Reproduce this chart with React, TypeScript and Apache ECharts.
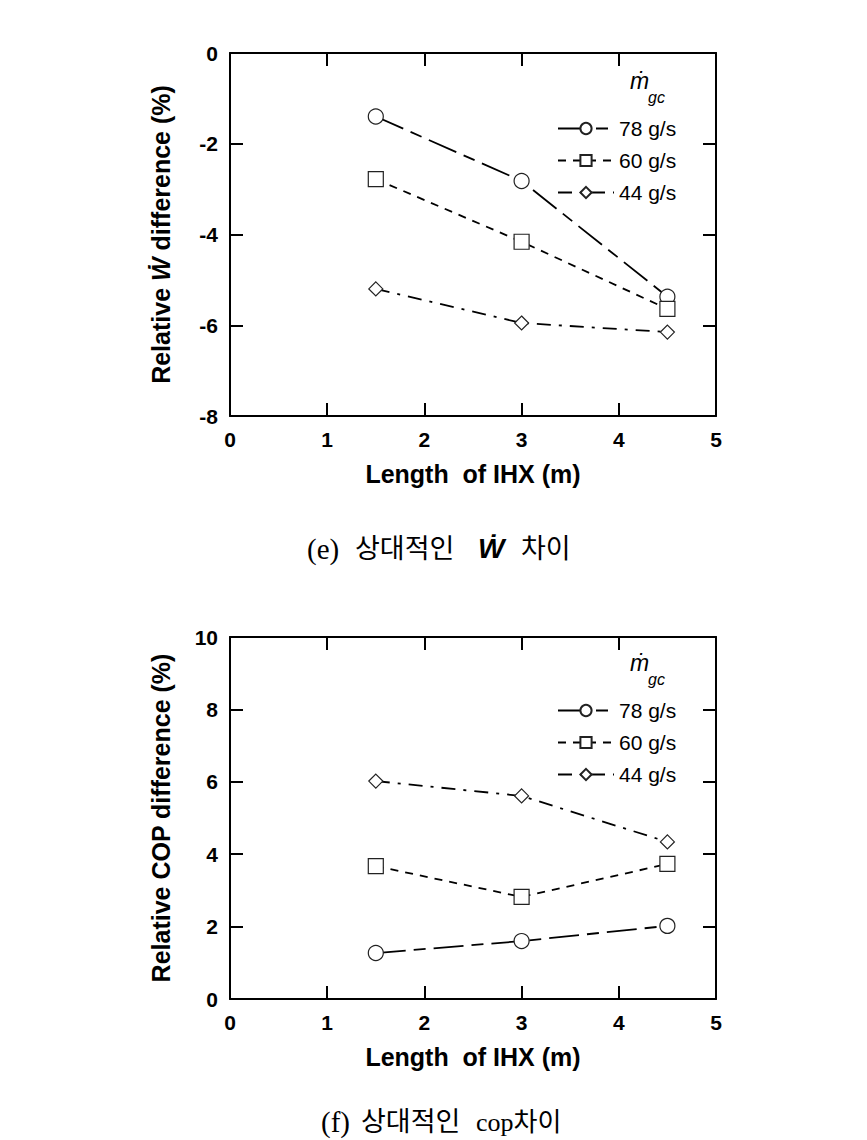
import React, { useEffect, useRef } from "react";
import * as echarts from "echarts";

const lengths = [1.5, 3, 4.5];
const seriesNames = ["78 g/s", "60 g/s", "44 g/s"];
const wDiff78 = [-1.4, -2.82, -5.37];
const wDiff60 = [-2.78, -4.16, -5.64];
const wDiff44 = [-5.2, -5.95, -6.15];
const copDiff78 = [1.27, 1.6, 2.02];
const copDiff60 = [3.67, 2.82, 3.73];
const copDiff44 = [6.02, 5.61, 4.34];
const xTicks = { min: 0, max: 5, interval: 1 };
const wTicks = { min: -8, max: 0, interval: 2 };
const copTicks = { min: 0, max: 10, interval: 2 };

const FONT = "'Liberation Sans', Arial, Helvetica, sans-serif";
const CAPFONT = "'Liberation Serif', 'Noto Sans CJK KR', serif";
const symbols = ["circle", "rect", "diamond"];
const dashes: number[][] = [
  [30, 8, 12, 8],
  [8, 7],
  [14, 8, 3, 8],
];
const symbolSizes = [15, 15, 14];

function pairs(xs: number[], ys: number[]) {
  return xs.map((x, i) => [x, ys[i]]);
}

export default function App() {
  const ref = useRef<HTMLDivElement>(null);
  useEffect(() => {
    if (!ref.current) return;
    const chart = echarts.init(ref.current, null, { renderer: "svg" });

    const axisLine = { show: true, onZero: false, lineStyle: { color: "#000", width: 2 } };
    const axisTick = { show: true, inside: true, length: 13, lineStyle: { color: "#000", width: 2 } };
    const labelStyle = { color: "#000", fontFamily: FONT, fontWeight: "bold" as const, fontSize: 21 };
    const nameStyle = { color: "#000", fontFamily: FONT, fontWeight: "bold" as const, fontSize: 25 };

    const makeX = (g: number) => [
      {
        gridIndex: g, type: "value", position: "bottom", ...xTicks,
        axisLine, axisTick, splitLine: { show: false },
        axisLabel: { ...labelStyle, margin: 13, showMinLabel: true, showMaxLabel: true },
        name: "Length  of IHX (m)", nameLocation: "middle", nameGap: 45, nameTextStyle: nameStyle,
      },
      {
        gridIndex: g, type: "value", position: "top", ...xTicks,
        axisLine, axisTick, splitLine: { show: false }, axisLabel: { show: false },
      },
    ];
    const makeY = (g: number, ticks: any, name: string, rich?: any) => [
      {
        gridIndex: g, type: "value", position: "left", ...ticks,
        axisLine, axisTick, splitLine: { show: false },
        axisLabel: { ...labelStyle, margin: 12, showMinLabel: true, showMaxLabel: true },
        name, nameLocation: "middle", nameGap: 57,
        nameTextStyle: { ...nameStyle, rich },
      },
      {
        gridIndex: g, type: "value", position: "right", ...ticks,
        axisLine, axisTick, splitLine: { show: false }, axisLabel: { show: false },
      },
    ];

    const wRich = {
      w: { color: "#000", fontFamily: FONT, fontWeight: "bold", fontStyle: "italic", fontSize: 25 },
    };

    const top = [wDiff78, wDiff60, wDiff44];
    const bot = [copDiff78, copDiff60, copDiff44];
    const mkSeries = (vals: number[][], xi: number, yi: number) =>
      vals.map((v, i) => ({
        type: "line",
        name: seriesNames[i],
        xAxisIndex: xi,
        yAxisIndex: yi,
        data: pairs(lengths, v),
        symbol: symbols[i],
        symbolSize: symbolSizes[i],
        showAllSymbol: true,
        lineStyle: { color: "#000", width: 1.8, type: dashes[i] },
        itemStyle: { color: "#fff", borderColor: "#222", borderWidth: 1.2 },
        z: 3,
      }));

    const legendCommon = {
      orient: "vertical",
      left: 552,
      itemWidth: 56,
      itemHeight: 14,
      itemGap: 11,
      data: seriesNames,
      textStyle: { color: "#000", fontFamily: FONT, fontSize: 21, lineHeight: 21 },
      selectedMode: false,
    };

    const mdot = (x: number, y: number) => [
      { type: "text", left: x, top: y, style: { text: "ṁ", font: `italic 23px ${FONT}`, fill: "#000" } },
      { type: "text", left: x + 18, top: y + 20, style: { text: "gc", font: `italic 16px ${FONT}`, fill: "#000" } },
    ];

    const cap = (text: string, x: number, y: number, font = `27px ${CAPFONT}`) => ({
      type: "text",
      x,
      y,
      style: { text, font, fill: "#000", align: "left", verticalAlign: "middle" },
    });

    chart.setOption({
      animation: false,
      backgroundColor: "#fff",
      grid: [
        { left: 230, top: 53, width: 486, height: 363 },
        { left: 230, top: 637, width: 486, height: 362 },
      ],
      xAxis: [...makeX(0), ...makeX(1)],
      yAxis: [
        ...makeY(0, wTicks, "Relative {w|Ẇ} difference (%)", wRich),
        ...makeY(1, copTicks, "Relative COP difference (%)"),
      ],
      legend: [
        { ...legendCommon, top: 113 },
        { ...legendCommon, top: 695 },
      ],
      series: [...mkSeries(top, 0, 0), ...mkSeries(bot, 2, 2)],
      graphic: [
        ...mdot(630, 69),
        ...mdot(630, 651),
        cap("(e)", 307, 549, `29px ${CAPFONT}`),
        cap("상대적인", 355, 549),
        cap("Ẇ", 478, 548, `italic bold 28px ${FONT}`),
        cap("차이", 521, 549),
        cap("(f)", 321, 1122, `29px ${CAPFONT}`),
        cap("상대적인", 361, 1122),
        cap("cop차이", 476, 1122, `26px ${CAPFONT}`),
      ],
    });
    return () => chart.dispose();
  }, []);
  return (
    <div
      ref={ref}
      style={{ position: "absolute", left: 0, top: 0, width: 867, height: 1140, background: "#fff" }}
    />
  );
}
